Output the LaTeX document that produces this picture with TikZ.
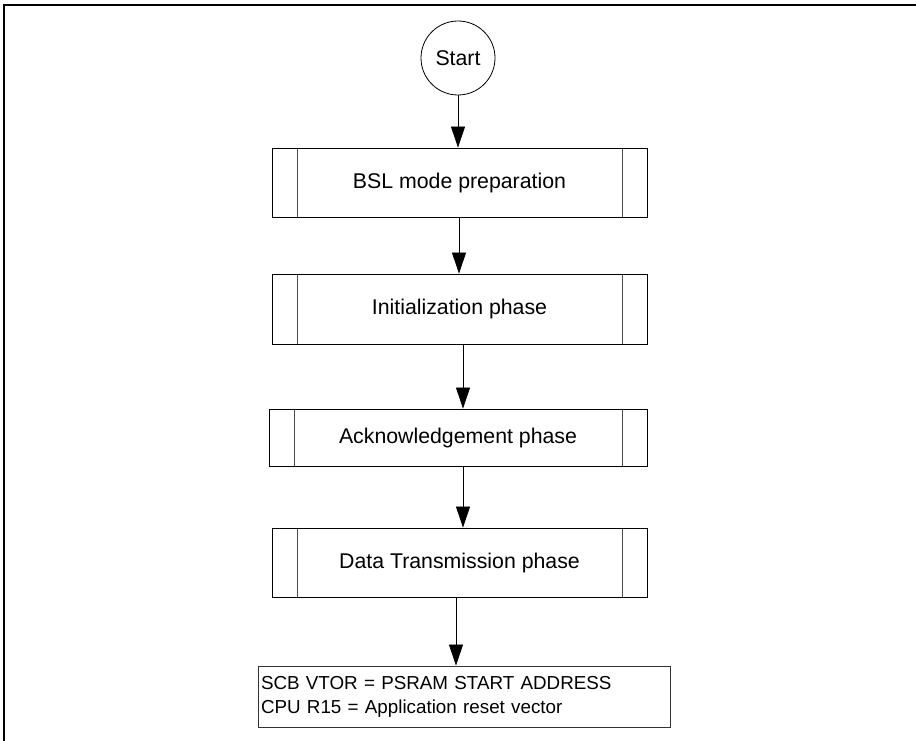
\documentclass[tikz,border=0pt]{standalone}
\usepackage{fontspec}
\setmainfont{Liberation Sans}
\usetikzlibrary{arrows.meta}
\tikzset{
  procbox/.style={draw, line width=0.9pt, rectangle, inner sep=0pt,
    font=\fontsize{21.3}{25}\selectfont,
    path picture={
      \draw[line width=0.9pt, black!70] ([xshift=25pt]path picture bounding box.north west) -- ([xshift=25pt]path picture bounding box.south west);
      \draw[line width=0.9pt, black!70] ([xshift=-25pt]path picture bounding box.north east) -- ([xshift=-25pt]path picture bounding box.south east);
    }},
  arr/.style={line width=0.8pt, -{Triangle[width=14pt,length=21pt]}},
  termnode/.style={draw, circle, line width=0.8pt, minimum size=74pt, inner sep=0pt,
    font=\fontsize{21.3}{25}\selectfont},
  notebox/.style={draw, line width=0.9pt, black!80, text=black, rectangle, inner sep=3pt,
    minimum width=412pt, minimum height=61pt, text width=406pt, align=left,
    font=\fontsize{18.8}{24}\selectfont}
}
\begin{document}
\begin{tikzpicture}[x=1pt,y=-1pt]
\useasboundingbox (0,0) rectangle (916,741);
\draw[line width=1.3pt] (4,741) -- (4,5) -- (916,5);

\node[termnode] (start) at (458,58) {Start};
\node[procbox, minimum width=375pt, minimum height=69pt] (b1) at (459.5,182.5) {BSL mode preparation};
\node[procbox, minimum width=375pt, minimum height=70pt] (b2) at (459.5,309) {Initialization phase};
\node[procbox, minimum width=378pt, minimum height=57pt] (b3) at (458,437.5) {Acknowledgement phase};
\node[procbox, minimum width=375pt, minimum height=69pt] (b4) at (459.5,562.5) {Data Transmission phase};
\node[notebox] (b5) at (464,696.5) {SCB VTOR = PSRAM START ADDRESS\\CPU R15 = Application reset vector};

\draw[arr] (start.south) -- (start.south |- b1.north);
\draw[arr] ([xshift=-0.5pt]b1.south) -- ([xshift=-0.5pt]b1.south |- b2.north);
\draw[arr] ([xshift=3.5pt]b2.south) -- ([xshift=3.5pt]b2.south |- b3.north);
\draw[arr] ([xshift=5pt]b3.south) -- ([xshift=5pt]b3.south |- b4.north);
\draw[arr] ([xshift=-3.5pt]b4.south) -- ([xshift=-3.5pt]b4.south |- b5.north);
\end{tikzpicture}
\end{document}
